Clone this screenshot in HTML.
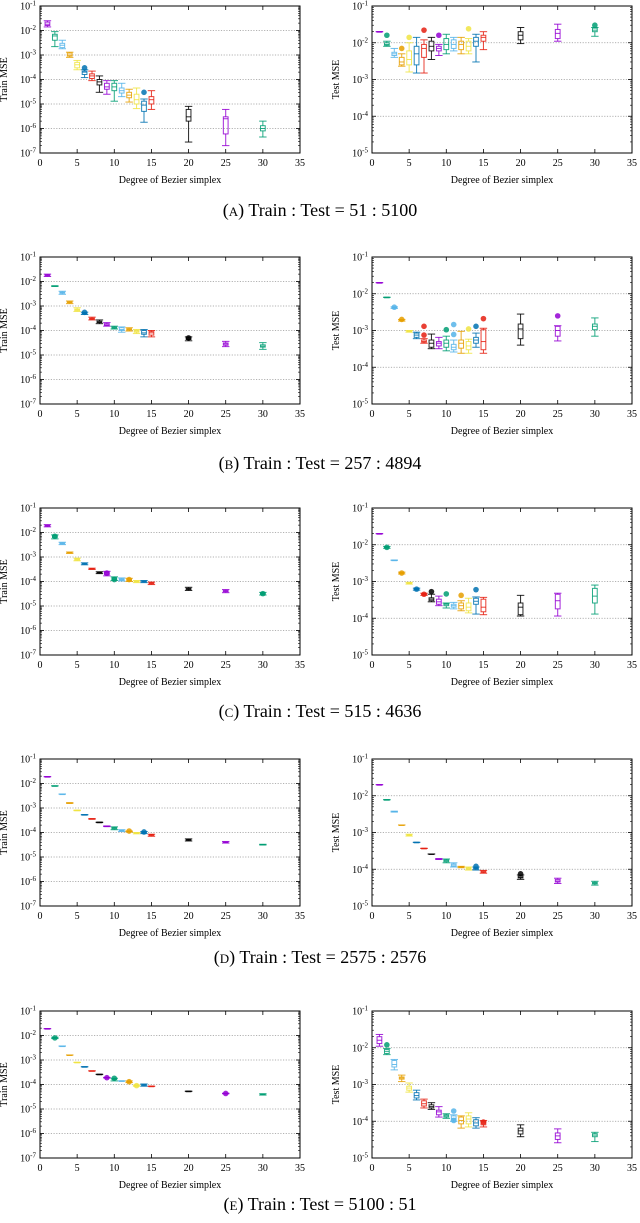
<!DOCTYPE html>
<html><head><meta charset="utf-8"><style>
html,body{margin:0;padding:0;background:#fff;}
svg{display:block;}
text{font-family:"Liberation Serif",serif;fill:#000;}
</style></head><body>
<svg id="fig" width="640" height="1223" viewBox="0 0 640 1223" xmlns="http://www.w3.org/2000/svg"></svg>
<script>
const degrees=[1,2,3,4,5,6,7,8,9,10,11,12,13,14,15,20,25,30];
const xTicks=[0,5,10,15,20,25,30,35];
const captions=["A","B","C","D","E"];
const captionRatios=["51 : 5100","257 : 4894","515 : 4636","2575 : 2576","5100 : 51"];
const colors=["#9400d3","#009e73","#56b4e9","#e69f00","#f0e442","#0072b2","#e51e10","#000000"];

// [whisker low, q1, median, q3, whisker high]
const trainA=[[1.4e-2,1.6e-2,1.8e-2,2.2e-2,2.5e-2],[2.2e-3,4e-3,6e-3,7e-3,9e-3],[1.8e-3,2e-3,2.5e-3,3e-3,4e-3],[8e-4,9e-4,1e-3,1.2e-3,1.3e-3],[2.5e-4,3e-4,4e-4,5e-4,6e-4],[1.2e-4,1.6e-4,2e-4,2.2e-4,2.5e-4],[9e-5,1.1e-4,1.4e-4,1.7e-4,2.2e-4],[3e-5,6e-5,8e-5,1e-4,1.4e-4],[2.5e-5,4e-5,5e-5,7e-5,9e-5],[1.3e-5,3.5e-5,5e-5,7e-5,9e-5],[2e-5,2.8e-5,3.5e-5,4.5e-5,7e-5],[1.2e-5,1.8e-5,2.3e-5,3e-5,4e-5],[6.5e-6,1e-5,1.5e-5,2.5e-5,4.5e-5],[1.8e-6,5e-6,9e-6,1.3e-5,1.6e-5],[6e-6,1e-5,1.5e-5,2e-5,3.5e-5],[2.8e-7,2e-6,3e-6,6e-6,8e-6],[2e-7,6e-7,2.5e-6,3e-6,6e-6],[4.5e-7,8e-7,1e-6,1.3e-6,2e-6]];
const trainAOut=[[6,3e-4],[14,3e-5]];
const testA=[[2e-2,2e-2,2e-2,2e-2,2e-2],[8e-3,8.5e-3,9e-3,1e-2,1.1e-2],[4e-3,4.5e-3,5e-3,5.5e-3,7e-3],[2.3e-3,2.5e-3,3e-3,4e-3,5e-3],[1.6e-3,2.5e-3,3.5e-3,6e-3,1e-2],[1.5e-3,2.5e-3,5e-3,8e-3,1.4e-2],[1.5e-3,4e-3,7e-3,9e-3,1.2e-2],[3.5e-3,6e-3,8e-3,1.1e-2,1.4e-2],[4.5e-3,6e-3,7e-3,8e-3,9e-3],[5e-3,6.5e-3,9e-3,1.3e-2,1.7e-2],[6e-3,7e-3,9e-3,1.2e-2,1.4e-2],[5e-3,6.5e-3,9e-3,1.1e-2,1.4e-2],[5e-3,6e-3,8e-3,1.1e-2,1.3e-2],[3e-3,8e-3,1.1e-2,1.4e-2,1.7e-2],[6.5e-3,1.1e-2,1.4e-2,1.6e-2,2e-2],[9.5e-3,1.2e-2,1.6e-2,2e-2,2.6e-2],[1.1e-2,1.3e-2,1.8e-2,2.3e-2,3.2e-2],[1.5e-2,2e-2,2.2e-2,2.5e-2,2.6e-2]];
const testAOut=[[2,1.6e-2],[4,7e-3],[5,1.4e-2],[7,2.2e-2],[9,1.6e-2],[13,2.4e-2],[30,3e-2]];

const trainB=[[1.6e-2,1.7e-2,1.8e-2,1.9e-2,2e-2],[6.3e-3,6.4e-3,6.5e-3,6.6e-3,6.7e-3],[3e-3,3.3e-3,3.5e-3,3.7e-3,4e-3],[1.25e-3,1.35e-3,1.4e-3,1.5e-3,1.6e-3],[6e-4,6.5e-4,7e-4,7.5e-4,8.5e-4],[4.5e-4,4.8e-4,5e-4,5.3e-4,5.6e-4],[2.7e-4,2.9e-4,3e-4,3.2e-4,3.5e-4],[1.9e-4,2.1e-4,2.2e-4,2.4e-4,2.7e-4],[1.5e-4,1.6e-4,1.7e-4,1.9e-4,2.1e-4],[1.15e-4,1.25e-4,1.3e-4,1.4e-4,1.5e-4],[8.5e-5,1e-4,1.1e-4,1.3e-4,1.4e-4],[9.5e-5,1.05e-4,1.1e-4,1.2e-4,1.3e-4],[7.5e-5,8.5e-5,9e-5,1e-4,1.1e-4],[5.5e-5,7e-5,8e-5,1e-4,1.1e-4],[5.5e-5,6.5e-5,8e-5,9e-5,1e-4],[3.8e-5,4.3e-5,4.5e-5,5e-5,5.5e-5],[2.2e-5,2.5e-5,2.8e-5,3.1e-5,3.6e-5],[1.7e-5,2.1e-5,2.3e-5,2.6e-5,3.2e-5]];
const trainBOut=[[6,5.5e-4],[20,5e-5]];
const testB=[[2e-2,2e-2,2e-2,2e-2,2e-2],[8e-3,8e-3,8e-3,8e-3,8e-3],[4e-3,4.1e-3,4.2e-3,4.3e-3,4.4e-3],[1.8e-3,1.85e-3,1.9e-3,1.95e-3,2e-3],[9e-4,9.3e-4,9.5e-4,9.8e-4,1e-3],[6e-4,6.5e-4,7.5e-4,8.5e-4,9e-4],[4.5e-4,4.8e-4,5e-4,5.5e-4,6e-4],[3.2e-4,3.5e-4,4.5e-4,5.5e-4,8e-4],[3.2e-4,3.8e-4,4.5e-4,5e-4,6.5e-4],[2.8e-4,3.5e-4,4.5e-4,5.5e-4,7e-4],[2.6e-4,3e-4,3.5e-4,4.2e-4,5.5e-4],[2.4e-4,3.3e-4,4.5e-4,5.5e-4,9.5e-4],[2.4e-4,3e-4,3.8e-4,5e-4,5.8e-4],[3.5e-4,4.5e-4,5.5e-4,6.5e-4,8.5e-4],[2.4e-4,3e-4,5e-4,1.05e-3,1.15e-3],[4e-4,6e-4,1.1e-3,1.5e-3,2.8e-3],[5.2e-4,7e-4,1e-3,1.3e-3,1.35e-3],[7e-4,1.05e-3,1.3e-3,1.5e-3,2.2e-3]];
const testBOut=[[3,4.3e-3],[4,2e-3],[7,7.5e-4],[7,1.3e-3],[10,1.05e-3],[11,7.8e-4],[11,1.45e-3],[13,1.1e-3],[14,1.3e-3],[15,2.1e-3],[25,2.5e-3]];

const trainC=[[1.7e-2,1.8e-2,1.9e-2,2e-2,2.1e-2],[5.5e-3,6.2e-3,7e-3,7.5e-3,8e-3],[3.2e-3,3.4e-3,3.6e-3,3.8e-3,4e-3],[1.4e-3,1.45e-3,1.5e-3,1.55e-3,1.6e-3],[7e-4,7.5e-4,8e-4,8.5e-4,9e-4],[4.8e-4,5e-4,5.3e-4,5.5e-4,5.8e-4],[3.1e-4,3.2e-4,3.3e-4,3.4e-4,3.5e-4],[2.1e-4,2.2e-4,2.3e-4,2.4e-4,2.5e-4],[1.7e-4,1.9e-4,2.2e-4,2.4e-4,2.6e-4],[1.1e-4,1.2e-4,1.3e-4,1.45e-4,1.55e-4],[1.05e-4,1.15e-4,1.2e-4,1.3e-4,1.4e-4],[1e-4,1.1e-4,1.15e-4,1.25e-4,1.35e-4],[9e-5,9.5e-5,1e-4,1.05e-4,1.1e-4],[9e-5,9.5e-5,1e-4,1.05e-4,1.1e-4],[7.5e-5,8e-5,8.5e-5,9e-5,9.5e-5],[4.3e-5,4.7e-5,5e-5,5.3e-5,5.8e-5],[3.5e-5,3.8e-5,4e-5,4.3e-5,4.7e-5],[2.8e-5,3e-5,3.2e-5,3.4e-5,3.6e-5]];
const trainCOut=[[2,7e-3],[9,2.2e-4],[10,1.2e-4],[12,1.2e-4],[30,3.2e-5]];
const testC=[[2e-2,2e-2,2e-2,2e-2,2e-2],[8e-3,8.3e-3,8.5e-3,8.7e-3,9e-3],[3.8e-3,3.8e-3,3.8e-3,3.8e-3,3.8e-3],[1.6e-3,1.65e-3,1.7e-3,1.75e-3,1.8e-3],[8.5e-4,8.8e-4,9e-4,9.2e-4,9.5e-4],[5.8e-4,6e-4,6.2e-4,6.4e-4,6.6e-4],[4.2e-4,4.4e-4,4.5e-4,4.6e-4,4.8e-4],[2.8e-4,3e-4,3.3e-4,3.6e-4,4.5e-4],[2.2e-4,2.4e-4,2.8e-4,3.3e-4,4e-4],[1.9e-4,2.2e-4,2.4e-4,2.5e-4,2.6e-4],[1.8e-4,2e-4,2.2e-4,2.4e-4,2.7e-4],[1.6e-4,1.8e-4,2.2e-4,2.6e-4,3e-4],[1.4e-4,1.6e-4,2e-4,2.6e-4,3.5e-4],[1.3e-4,2.4e-4,2.9e-4,3.5e-4,3.8e-4],[1.25e-4,1.5e-4,2e-4,3.3e-4,3.7e-4],[1.15e-4,1.25e-4,2e-4,2.6e-4,4.2e-4],[1.15e-4,1.8e-4,3e-4,4.5e-4,4.8e-4],[1.3e-4,2.6e-4,4e-4,6.5e-4,8e-4]];
const testCOut=[[2,8.5e-3],[4,1.7e-3],[6,6.2e-4],[7,4.5e-4],[8,5.3e-4],[10,4.6e-4],[12,4.2e-4],[14,6e-4]];

const trainD=[[1.9e-2,1.9e-2,1.9e-2,1.9e-2,1.9e-2],[8e-3,8e-3,8e-3,8e-3,8e-3],[3.7e-3,3.7e-3,3.7e-3,3.7e-3,3.7e-3],[1.55e-3,1.58e-3,1.6e-3,1.62e-3,1.65e-3],[7.8e-4,7.9e-4,8e-4,8.1e-4,8.2e-4],[5.2e-4,5.25e-4,5.3e-4,5.35e-4,5.4e-4],[3.5e-4,3.55e-4,3.6e-4,3.65e-4,3.7e-4],[2.55e-4,2.58e-4,2.6e-4,2.62e-4,2.65e-4],[1.75e-4,1.78e-4,1.8e-4,1.82e-4,1.85e-4],[1.3e-4,1.4e-4,1.5e-4,1.6e-4,1.7e-4],[1.1e-4,1.15e-4,1.2e-4,1.25e-4,1.3e-4],[1.05e-4,1.08e-4,1.1e-4,1.12e-4,1.15e-4],[8.8e-5,9.2e-5,9.5e-5,9.8e-5,1e-4],[9e-5,9.5e-5,1e-4,1.05e-4,1.1e-4],[7e-5,7.5e-5,8e-5,8.3e-5,8.5e-5],[4.5e-5,4.8e-5,5e-5,5.2e-5,5.5e-5],[3.7e-5,3.9e-5,4e-5,4.1e-5,4.3e-5],[3.1e-5,3.15e-5,3.2e-5,3.25e-5,3.3e-5]];
const trainDOut=[[12,1.15e-4],[14,1.05e-4]];
const testD=[[2e-2,2e-2,2e-2,2e-2,2e-2],[7.8e-3,7.8e-3,7.8e-3,7.8e-3,7.8e-3],[3.6e-3,3.65e-3,3.7e-3,3.75e-3,3.8e-3],[1.6e-3,1.6e-3,1.6e-3,1.6e-3,1.6e-3],[8e-4,8.3e-4,8.5e-4,8.7e-4,9e-4],[5.4e-4,5.4e-4,5.4e-4,5.4e-4,5.4e-4],[3.7e-4,3.7e-4,3.7e-4,3.7e-4,3.7e-4],[2.6e-4,2.6e-4,2.6e-4,2.6e-4,2.6e-4],[1.85e-4,1.88e-4,1.9e-4,1.92e-4,1.95e-4],[1.5e-4,1.6e-4,1.7e-4,1.8e-4,1.9e-4],[1.15e-4,1.2e-4,1.3e-4,1.4e-4,1.5e-4],[1.1e-4,1.12e-4,1.15e-4,1.18e-4,1.2e-4],[9.5e-5,1e-4,1.05e-4,1.1e-4,1.15e-4],[9.5e-5,1e-4,1.05e-4,1.1e-4,1.15e-4],[7.8e-5,8.2e-5,8.5e-5,9e-5,9.3e-5],[5.3e-5,5.8e-5,6e-5,6.5e-5,7e-5],[4.1e-5,4.5e-5,4.8e-5,5.3e-5,5.7e-5],[3.7e-5,4e-5,4.2e-5,4.4e-5,4.7e-5]];
const testDOut=[[14,1.2e-4],[20,7.5e-5]];

const trainE=[[1.9e-2,1.9e-2,1.9e-2,1.9e-2,1.9e-2],[7.5e-3,7.8e-3,8e-3,8.2e-3,8.5e-3],[3.7e-3,3.7e-3,3.7e-3,3.7e-3,3.7e-3],[1.6e-3,1.6e-3,1.6e-3,1.6e-3,1.6e-3],[8e-4,8e-4,8e-4,8e-4,8e-4],[5.3e-4,5.3e-4,5.3e-4,5.3e-4,5.3e-4],[3.6e-4,3.6e-4,3.6e-4,3.6e-4,3.6e-4],[2.6e-4,2.6e-4,2.6e-4,2.6e-4,2.6e-4],[1.85e-4,1.88e-4,1.9e-4,1.92e-4,1.95e-4],[1.4e-4,1.6e-4,1.7e-4,1.75e-4,1.8e-4],[1.4e-4,1.4e-4,1.4e-4,1.4e-4,1.4e-4],[1.2e-4,1.25e-4,1.3e-4,1.35e-4,1.4e-4],[8.5e-5,8.8e-5,9e-5,9.2e-5,9.5e-5],[8.5e-5,9e-5,9.5e-5,1e-4,1.05e-4],[8.5e-5,8.5e-5,8.5e-5,8.5e-5,8.5e-5],[5.3e-5,5.3e-5,5.3e-5,5.3e-5,5.3e-5],[4.2e-5,4.25e-5,4.3e-5,4.35e-5,4.4e-5],[3.7e-5,3.85e-5,4e-5,4.1e-5,4.2e-5]];
const trainEOut=[[2,8e-3],[9,1.9e-4],[10,1.8e-4],[12,1.3e-4],[13,9e-5],[25,4.3e-5]];
const testE=[[1.1e-2,1.3e-2,1.6e-2,2e-2,2.3e-2],[6.5e-3,7e-3,8e-3,9e-3,9.5e-3],[2.5e-3,3e-3,3.5e-3,4.5e-3,4.8e-3],[1.2e-3,1.4e-3,1.5e-3,1.6e-3,1.8e-3],[6.2e-4,7e-4,8e-4,9e-4,1.1e-3],[3.8e-4,4.3e-4,5e-4,6e-4,7e-4],[2.3e-4,2.6e-4,3e-4,3.6e-4,4e-4],[2.1e-4,2.3e-4,2.5e-4,2.8e-4,3.2e-4],[1.3e-4,1.5e-4,1.8e-4,2e-4,2.5e-4],[1.2e-4,1.3e-4,1.4e-4,1.5e-4,1.6e-4],[1e-4,1.1e-4,1.2e-4,1.4e-4,1.5e-4],[6.5e-5,8.5e-5,1.05e-4,1.3e-4,1.4e-4],[7e-5,8.5e-5,1.15e-4,1.4e-4,1.7e-4],[6.5e-5,7.5e-5,9e-5,1.1e-4,1.25e-4],[7e-5,8e-5,9e-5,1e-4,1.05e-4],[3.8e-5,4.5e-5,5.5e-5,6.5e-5,8e-5],[2.6e-5,3.2e-5,4e-5,4.8e-5,6.2e-5],[2.8e-5,3.8e-5,4.2e-5,4.6e-5,5e-5]];
const testEOut=[[2,1.2e-2],[11,1.05e-4],[11,1.9e-4],[15,9.5e-5]];

const trainSets=[trainA,trainB,trainC,trainD,trainE];
const trainOuts=[trainAOut,trainBOut,trainCOut,trainDOut,trainEOut];
const testSets=[testA,testB,testC,testD,testE];
const testOuts=[testAOut,testBOut,testCOut,testDOut,testEOut];

const NS="http://www.w3.org/2000/svg";
const svg=document.getElementById('fig');
function mk(tag,attrs,parent){const e=document.createElementNS(NS,tag);for(const k in attrs)e.setAttribute(k,attrs[k]);(parent||svg).appendChild(e);return e;}

const panelTops=[6,257,508,759,1011];
const captionYs=[216,469,717,963,1210];
const PH=147;

function drawPlot(x0,x1,top,expTop,expBot,label,boxes,outs,name){
  const g=mk('g',{});
  
  
  const bot=top+PH;
  const xs=v=>x0+(v/35)*(x1-x0);
  const ys=v=>top+(expTop-Math.log10(v))/(expTop-expBot)*PH;
  for(let e=expBot+1;e<expTop;e++){
    const y=ys(Math.pow(10,e));
    const l=mk('line',{x1:x0,x2:x1,y1:y,y2:y,stroke:'#999','stroke-width':0.7,'stroke-dasharray':'1.2,1.5'},g);
    
    
  }
  for(let e=expBot;e<=expTop;e++){
    const y=ys(Math.pow(10,e));
    mk('line',{x1:x0,x2:x0+4,y1:y,y2:y,stroke:'#000','stroke-width':0.8},g);
    mk('line',{x1:x1,x2:x1-4,y1:y,y2:y,stroke:'#000','stroke-width':0.8},g);
    if(e<expTop){for(let m=2;m<10;m++){const ym=ys(m*Math.pow(10,e));
      mk('line',{x1:x0,x2:x0+2,y1:ym,y2:ym,stroke:'#000','stroke-width':0.6},g);
      mk('line',{x1:x1,x2:x1-2,y1:ym,y2:ym,stroke:'#000','stroke-width':0.6},g);}}
    const t=mk('text',{x:x0-4,y:y+3.5,'text-anchor':'end','font-size':'10'},g);
    
    
    t.textContent='10';
    const s=mk('tspan',{dy:'-4','font-size':'7'},t);s.textContent=String(e);
  }
  xTicks.forEach(v=>{
    const x=xs(v);
    mk('line',{x1:x,x2:x,y1:bot,y2:bot-4,stroke:'#000','stroke-width':0.8},g);
    mk('line',{x1:x,x2:x,y1:top,y2:top+4,stroke:'#000','stroke-width':0.8},g);
    const t=mk('text',{x:x,y:bot+13,'text-anchor':'middle','font-size':'10'},g);
    
    
    t.textContent=String(v);
  });
  const fr=mk('rect',{x:x0,y:top,width:x1-x0,height:PH,fill:'none',stroke:'#000','stroke-width':1},g);
  
  
  const xl=mk('text',{x:(x0+x1)/2,y:bot+30,'text-anchor':'middle','font-size':'10'},g);
  
  
  xl.textContent='Degree of Bezier simplex';
  const lx=x0-33, ly=top+PH/2;
  const yl=mk('text',{x:lx,y:ly,'text-anchor':'middle','font-size':'10',transform:`rotate(-90 ${lx} ${ly})`},g);
  
  
  yl.textContent=label;
  const cw=(x1-x0)/35*0.5, bw=(x1-x0)/35*0.32;
  boxes.forEach((b,i)=>{
    const d=degrees[i], c=colors[i%8], x=xs(d);
    const bg=mk('g',{stroke:c,'stroke-width':1,fill:'none','stroke-opacity':0.85},g);
    
    
    const [wl,q1,md,q3,wh]=b;
    mk('line',{x1:x,x2:x,y1:ys(wl),y2:ys(q1)},bg);
    mk('line',{x1:x,x2:x,y1:ys(q3),y2:ys(wh)},bg);
    mk('line',{x1:x-cw,x2:x+cw,y1:ys(wl),y2:ys(wl)},bg);
    mk('line',{x1:x-cw,x2:x+cw,y1:ys(wh),y2:ys(wh)},bg);
    mk('rect',{x:x-bw,y:ys(q3),width:2*bw,height:Math.max(0.5,ys(q1)-ys(q3))},bg);
    mk('line',{x1:x-bw,x2:x+bw,y1:ys(md),y2:ys(md)},bg);
  });
  outs.forEach(o=>{
    const i=degrees.indexOf(o[0]);
    const c=mk('circle',{cx:xs(o[0]),cy:ys(o[1]),r:2.8,fill:colors[i%8],'fill-opacity':0.85},g);
    
    
  });
}

for(let p=0;p<5;p++){
  const top=panelTops[p];
  drawPlot(40,300,top,-1,-7,'Train MSE',trainSets[p],trainOuts[p],'train-plot-'+captions[p].toLowerCase());
  drawPlot(372,632,top,-1,-5,'Test MSE',testSets[p],testOuts[p],'test-plot-'+captions[p].toLowerCase());
  const t=mk('text',{x:320,y:captionYs[p],'text-anchor':'middle','font-size':'18'});
  
  
  const a=mk('tspan',{'font-size':'18'},t);a.textContent='(';
  const b=mk('tspan',{'font-size':'13'},t);b.textContent=captions[p];
  const c=mk('tspan',{'font-size':'18'},t);c.textContent=')  Train : Test = '+captionRatios[p];
}
</script>
</body></html>
